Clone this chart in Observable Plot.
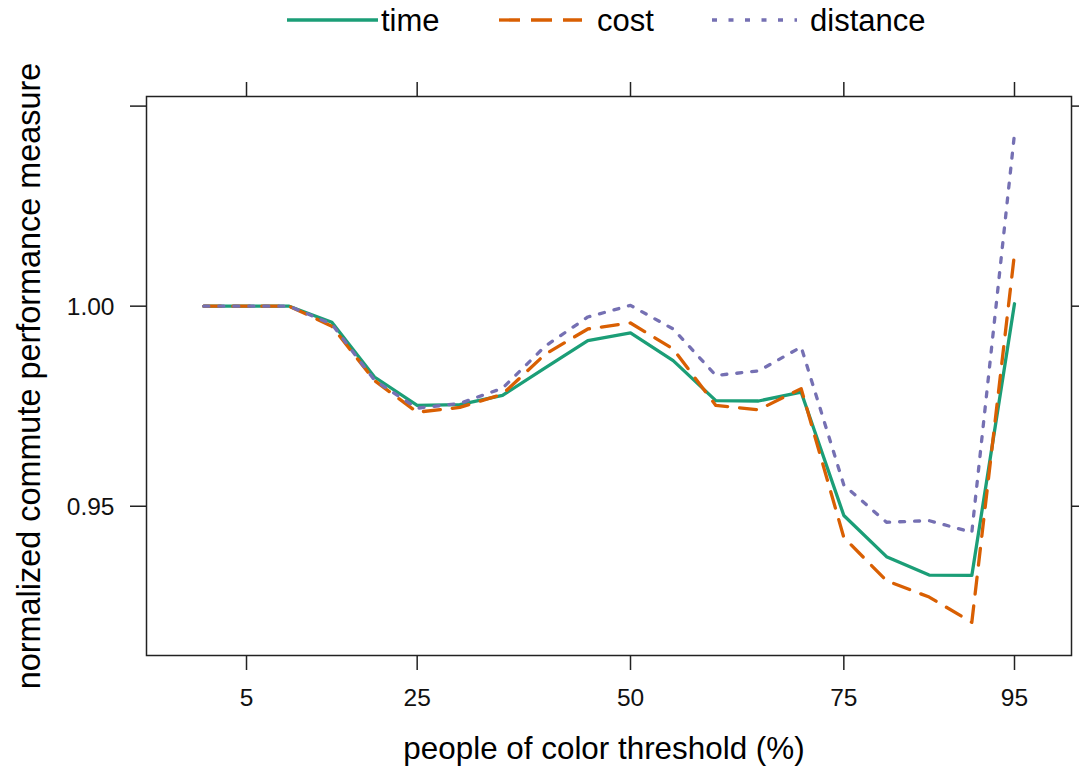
<!DOCTYPE html>
<html>
<head>
<meta charset="utf-8">
<script src="https://cdn.jsdelivr.net/npm/d3@7"></script>
<script src="https://cdn.jsdelivr.net/npm/@observablehq/plot@0.6"></script>
<style>
  body { margin: 0; background: #fff; font-family: "Liberation Sans", Arial, sans-serif; }
  #legend, #chart { display: block; width: 1079px; }
  #legend svg, #chart svg { display: block; }
</style>
</head>
<body>
<div id="legend"></div>
<div id="chart"></div>
<script>
const thresholds = [0, 5, 10, 15, 20, 25, 30, 35, 40, 45, 50, 55, 60, 65, 70, 75, 80, 85, 90, 95];
const timeValues = [1.000, 1.000, 1.000, 0.996, 0.9823, 0.9752, 0.9754, 0.9777, 0.9846, 0.9914, 0.9933, 0.9864, 0.9764, 0.9763, 0.9785, 0.9477, 0.9374, 0.9328, 0.9327, 1.0006];
const costValues = [1.000, 1.000, 1.000, 0.995, 0.9814, 0.9735, 0.9747, 0.978, 0.988, 0.9943, 0.9958, 0.9893, 0.9752, 0.9741, 0.9794, 0.9422, 0.9314, 0.9273, 0.921, 1.0131];
const distanceValues = [1.000, 1.000, 1.000, 0.9955, 0.9815, 0.9745, 0.9757, 0.9795, 0.990, 0.9973, 1.0002, 0.9943, 0.9827, 0.9838, 0.9898, 0.9553, 0.946, 0.9464, 0.9435, 1.0431];
const seriesNames = ["time", "cost", "distance"];
const seriesColors = ["#1b9e77", "#d95f02", "#7570b3"];
const xTicks = [5, 25, 50, 75, 95];
const xTickLabels = ["5", "25", "50", "75", "95"];
const yTicks = [0.95, 1.00, 1.05];
const yLabelTicks = [0.95, 1.00];
const yTickLabels = ["0.95", "1.00"];
const xTitle = "people of color threshold (%)";
const yTitle = "normalized commute performance measure";

const seriesValues = [timeValues, costValues, distanceValues];
const dashes = [null, "17,12", "5,10"];
const legendDashes = [null, "21,11", "5,11.5"];

// Legend (SVG above the chart)
const legendSvg = d3.select("#legend").append("svg").attr("width", 1079).attr("height", 45);
const legendLayout = [
  {x0: 287, x1: 378, tx: 381},
  {x0: 499, x1: 582, tx: 597},
  {x0: 712, x1: 797, tx: 810}
];
seriesNames.forEach((name, i) => {
  const g = legendSvg.append("g");
  g.append("line")
    .attr("x1", legendLayout[i].x0).attr("x2", legendLayout[i].x1)
    .attr("y1", 20).attr("y2", 20)
    .attr("stroke", seriesColors[i]).attr("stroke-width", 3.3)
    .attr("stroke-dasharray", legendDashes[i]);
  g.append("text")
    .attr("x", legendLayout[i].tx).attr("y", 31)
    .attr("font-size", 31).attr("fill", "#000")
    .attr("font-family", "Liberation Sans, Arial, sans-serif")
    .text(name);
});

const seriesData = seriesValues.map((vals, si) =>
  thresholds.map((t, i) => ({t, v: vals[i], s: seriesNames[si]}))
);

const chart = Plot.plot({
  width: 1079,
  height: 729,
  marginLeft: 146,
  marginRight: 8,
  marginTop: 51,
  marginBottom: 119,
  style: {fontFamily: "Liberation Sans, Arial, sans-serif", fontSize: "24px", color: "#222", background: "#fff", overflow: "visible"},
  x: {domain: [-6.72, 101.68]},
  y: {domain: [0.9127, 1.0524]},
  marks: [
    Plot.axisX({anchor: "bottom", ticks: xTicks, tickSize: 15, text: null, label: null, strokeWidth: 1.5}),
    Plot.axisX({anchor: "top", ticks: xTicks, tickSize: 15, text: null, label: null, strokeWidth: 1.5}),
    Plot.axisY({anchor: "left", ticks: yTicks, tickSize: 16, text: null, label: null, strokeWidth: 1.5}),
    Plot.axisY({anchor: "right", ticks: yTicks, tickSize: 10, text: null, label: null, strokeWidth: 1.5}),
    Plot.text(xTicks, {x: d => d, text: (d, i) => xTickLabels[i], frameAnchor: "bottom", dy: 43, lineAnchor: "middle", textAnchor: "middle", fontSize: 24.5, fill: "#111"}),
    Plot.text(yLabelTicks, {y: d => d, text: (d, i) => yTickLabels[i], frameAnchor: "left", dx: -32, dy: 1, lineAnchor: "middle", textAnchor: "end", fontSize: 24.5, fill: "#111"}),
    ...seriesData.map((d, i) => Plot.line(d, {
      x: "t", y: "v", stroke: seriesColors[i], strokeWidth: 3.3,
      strokeDasharray: dashes[i] ?? undefined, strokeLinejoin: "round"
    })),
    Plot.frame({stroke: "#222", strokeWidth: 1.5}),
    Plot.text([xTitle], {frameAnchor: "bottom", dy: 93, dx: -5, text: d => d, fontSize: 31.4, fill: "#000", lineAnchor: "middle", textAnchor: "middle"}),
    Plot.text([yTitle], {frameAnchor: "left", dx: -117, rotate: -90, text: d => d, fontSize: 32.4, fill: "#000", lineAnchor: "middle", textAnchor: "middle"})
  ]
});
document.getElementById("chart").appendChild(chart);
</script>
</body>
</html>
